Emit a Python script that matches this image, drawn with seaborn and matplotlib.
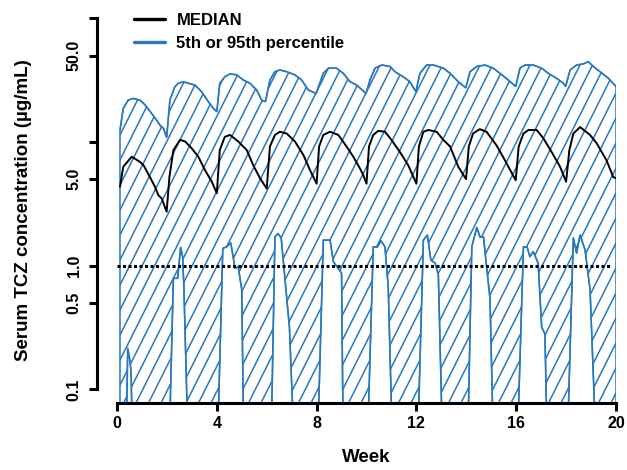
"""
Serum TCZ concentration over 20 weeks: median with the 5th-95th percentile band.
"""
import numpy as np
import seaborn as sns
import matplotlib
matplotlib.use("Agg")
import matplotlib.pyplot as plt
import matplotlib.hatch as mhatch
from matplotlib.path import Path

# 95th percentile (ug/mL)
upper_weeks = [0.12, 0.25, 0.45, 0.65, 0.92, 1.12, 1.39, 1.59, 1.72, 1.86, 1.99,
               2.12, 2.32, 2.46, 2.66, 2.86, 3.12, 3.39, 3.66, 3.86, 4.0,
               4.12, 4.32, 4.53, 4.8, 5.06, 5.33, 5.6, 5.8, 5.95,
               6.13, 6.33, 6.53, 6.8, 7.13, 7.4, 7.67, 7.98,
               8.27, 8.47, 8.8, 9.07, 9.34, 9.6, 9.98,
               10.14, 10.34, 10.61, 10.94, 11.14, 11.47, 11.74, 11.98,
               12.14, 12.41, 12.68, 13.08, 13.35, 13.68, 13.98,
               14.15, 14.42, 14.75, 15.08, 15.35, 15.68, 15.98,
               16.15, 16.35, 16.68, 17.02, 17.29, 17.62, 17.89, 17.98,
               18.16, 18.42, 18.69, 18.89, 19.09, 19.36, 19.7, 20.0]
upper_conc = [12.5, 18.7, 21.8, 22.5, 21.8, 20.0, 17.0, 15.0, 13.7, 12.9, 10.9,
              21.8, 28.0, 29.8, 30.7, 29.8, 28.9, 25.5, 21.2, 18.7, 17.6,
              29.8, 33.7, 35.5, 34.9, 31.7, 29.8, 26.3, 21.8, 21.2,
              31.7, 37.0, 38.2, 37.0, 34.9, 31.7, 26.3, 24.7,
              35.9, 39.5, 39.5, 35.9, 30.7, 28.9, 24.7,
              31.7, 39.5, 41.9, 40.8, 37.0, 33.7, 30.7, 25.5,
              35.9, 41.9, 41.9, 39.5, 35.9, 30.7, 27.4,
              37.0, 40.8, 41.9, 39.5, 35.9, 31.7, 28.1,
              39.5, 41.9, 41.9, 39.5, 35.9, 32.7, 29.8, 28.1,
              38.2, 41.9, 42.8, 44.6, 40.8, 37.0, 32.7, 28.1]

# median
median_weeks = [0.12, 0.25, 0.59, 0.92, 1.06, 1.32, 1.52, 1.66, 1.79, 1.99,
                2.1, 2.26, 2.53, 2.73, 2.99, 3.26, 3.53, 3.8, 4.0,
                4.12, 4.32, 4.53, 4.86, 5.2, 5.46, 5.73, 6.0,
                6.13, 6.33, 6.53, 6.8, 7.13, 7.47, 7.74, 8.0,
                8.1, 8.27, 8.54, 8.87, 9.2, 9.47, 9.74, 9.87, 10.0,
                10.1, 10.27, 10.47, 10.74, 11.0, 11.34, 11.67, 12.0,
                12.1, 12.28, 12.48, 12.81, 13.08, 13.35, 13.68, 13.99,
                14.1, 14.27, 14.54, 14.81, 15.21, 15.55, 15.98,
                16.1, 16.29, 16.49, 16.82, 17.09, 17.42, 17.76, 18.0,
                18.13, 18.29, 18.56, 18.96, 19.22, 19.62, 19.89, 20.0]
median_conc = [4.35, 6.3, 7.6, 6.9, 6.5, 5.2, 4.35, 3.7, 3.5, 2.73,
               5.2, 8.6, 10.4, 10.1, 8.9, 7.6, 5.9, 4.77, 3.85,
               8.6, 11.0, 11.4, 10.1, 8.6, 6.5, 5.1, 4.2,
               9.2, 11.4, 12.1, 11.7, 10.1, 7.85, 5.9, 4.6,
               9.2, 11.4, 12.1, 11.4, 9.2, 7.6, 6.1, 5.4, 4.6,
               9.2, 11.4, 12.3, 12.1, 10.4, 8.3, 6.5, 4.6,
               9.2, 12.1, 12.5, 12.1, 10.4, 9.2, 6.3, 5.0,
               9.2, 11.7, 12.7, 12.1, 9.4, 7.1, 4.9,
               9.2, 11.7, 12.5, 12.5, 10.7, 8.3, 6.3, 4.77,
               8.6, 11.7, 13.2, 11.4, 9.8, 7.1, 5.2, 5.1]

# 5th percentile, 0.05 = below the bottom of the plot
lower_weeks = [0.12, 0.38, 0.43, 0.52, 0.56, 0.61,
               2.11, 2.26, 2.43, 2.55, 2.63, 2.68, 2.83,
               4.05, 4.24, 4.4, 4.56, 4.73, 4.86, 5.0, 5.07,
               6.19, 6.33, 6.45, 6.58, 6.91, 7.07,
               8.06, 8.27, 8.54, 8.67, 9.0, 9.06,
               10.06, 10.27, 10.43, 10.58, 10.74, 10.87, 11.02,
               12.07, 12.28, 12.44, 12.58, 12.75, 12.88, 13.03,
               14.07, 14.22, 14.42, 14.55, 14.69, 14.95, 15.07,
               16.07, 16.29, 16.44, 16.55, 16.68, 16.88, 17.02, 17.15, 17.23,
               18.07, 18.29, 18.42, 18.56, 18.76, 18.96, 19.17, 20.0]
lower_conc = [0.05, 0.05, 0.215, 0.17, 0.14, 0.05,
              0.05, 0.79, 0.79, 1.41, 1.18, 0.68, 0.05,
              0.05, 1.38, 1.42, 1.53, 0.95, 0.98, 0.64, 0.05,
              0.05, 1.71, 1.82, 1.68, 0.32, 0.05,
              0.05, 1.61, 1.61, 1.08, 0.87, 0.05,
              0.05, 1.42, 1.41, 1.59, 1.42, 0.68, 0.05,
              0.05, 1.61, 1.77, 1.11, 1.05, 0.84, 0.05,
              0.05, 1.42, 2.04, 1.7, 1.7, 0.54, 0.05,
              0.05, 1.42, 1.41, 1.18, 1.3, 1.05, 0.32, 0.28, 0.05,
              0.05, 1.68, 1.26, 1.77, 1.34, 0.64, 0.05, 0.05]

threshold = 1.0
threshold_weeks = (0, 19.85)

y_ticks = [0.1, 0.5, 1, 5, 10, 50, 100]
y_tick_labels = ['0.1', '0.5', '1.0', '5.0', '', '50.0', '']
x_ticks = [0, 4, 8, 12, 16, 20]

BLUE = '#2878c0'


class SteepHatch(mhatch.HatchPatternBase):
    # '/' hatch at about 63 degrees (the original uses steeper lines than 45)
    def __init__(self, hatch, density):
        self.num_lines = 8 * hatch.count('/')
        if self.num_lines:
            self.offsets = np.arange(-self.num_lines // 2, self.num_lines + 1) / self.num_lines
            self.num_vertices = 2 * len(self.offsets)
        else:
            self.num_vertices = 0

    def set_vertices_and_codes(self, vertices, codes):
        vertices[0::2, 0] = self.offsets
        vertices[0::2, 1] = 0.0
        vertices[1::2, 0] = self.offsets + 0.5
        vertices[1::2, 1] = 1.0
        codes[0::2] = Path.MOVETO
        codes[1::2] = Path.LINETO


mhatch._hatch_types = [SteepHatch if h is mhatch.NorthEastHatch else h
                       for h in mhatch._hatch_types]


def draw():
    sns.set_style("white")
    plt.rcParams['font.family'] = ['Liberation Sans', 'DejaVu Sans']
    plt.rcParams['font.weight'] = 'bold'
    plt.rcParams['axes.labelweight'] = 'bold'
    plt.rcParams['text.color'] = 'black'
    plt.rcParams['axes.labelcolor'] = 'black'
    plt.rcParams['xtick.color'] = 'black'
    plt.rcParams['ytick.color'] = 'black'
    plt.rcParams['hatch.linewidth'] = 1.1
    plt.rcParams['hatch.color'] = BLUE

    fig = plt.figure(figsize=(6.27, 4.70), dpi=100)
    ax = fig.add_axes([117 / 627, 1 - 402.7 / 470, 499 / 627, 384.4 / 470])
    ax.set_yscale('log')

    # band between the percentiles
    band_x = upper_weeks + lower_weeks[::-1]
    band_y = upper_conc + lower_conc[::-1]
    ax.fill(band_x, band_y, facecolor='none', edgecolor=BLUE, hatch='/', linewidth=1.1)

    sns.lineplot(x=median_weeks, y=median_conc, color='black', linewidth=1.4,
                 estimator=None, label='MEDIAN', ax=ax)
    sns.lineplot(x=upper_weeks, y=upper_conc, color=BLUE, linewidth=1.1,
                 estimator=None, label='5th or 95th percentile', ax=ax)
    sns.lineplot(x=lower_weeks, y=lower_conc, color=BLUE, linewidth=1.1,
                 estimator=None, ax=ax)
    ax.hlines(threshold, threshold_weeks[0], threshold_weeks[1], colors='black',
              linestyles=(0, (1, 0.8)), linewidth=2.2)

    ax.set_xlim(0, 20)
    ax.set_ylim(0.078, 100)
    ax.set_xticks(x_ticks)
    ax.set_xticklabels([str(t) for t in x_ticks])
    ax.set_yticks(y_ticks)
    ax.set_yticklabels(y_tick_labels)
    ax.yaxis.set_minor_locator(matplotlib.ticker.NullLocator())

    for side in ['top', 'right']:
        ax.spines[side].set_visible(False)
    for side in ['left', 'bottom']:
        ax.spines[side].set_linewidth(2.2)
        ax.spines[side].set_color('black')
    ax.spines['left'].set_position(('outward', 14.4))
    ax.spines['left'].set_bounds(0.1, 100)

    ax.tick_params(axis='both', direction='out', length=6, width=2.2,
                   color='black', labelcolor='black', labelsize=11.5,
                   left=True, bottom=True)
    ax.tick_params(axis='x', pad=3.5)
    ax.tick_params(axis='y', pad=5)
    for lab in ax.get_yticklabels():
        lab.set_rotation(90)
        lab.set_va('center')

    ax.set_xlabel('Week', fontsize=13.5, color='black')
    ax.set_ylabel('Serum TCZ concentration (µg/mL)', fontsize=13.5, color='black')
    ax.xaxis.set_label_coords(0.5, -0.12)
    ax.yaxis.set_label_coords(-0.170, 0.5)

    leg = ax.legend(loc='upper left', bbox_to_anchor=(134 / 627, 1 - 13 / 470),
                    bbox_transform=fig.transFigure, frameon=False,
                    prop={'size': 12, 'weight': 'bold'}, handlelength=1.85,
                    handletextpad=0.7, labelspacing=0.48, borderpad=0, borderaxespad=0)
    for line in leg.get_lines():
        line.set_linewidth(2.4)
    for text in leg.get_texts():
        text.set_color('black')

    fig.savefig('out.png', dpi=100)


if __name__ == "__main__":
    draw()
